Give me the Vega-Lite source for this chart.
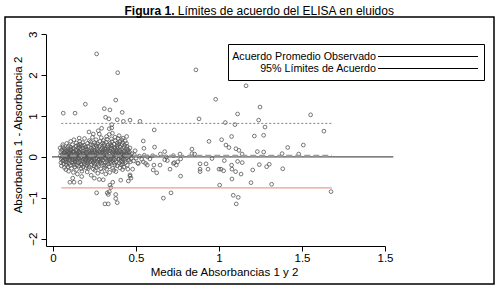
{
  "$schema": "https://vega.github.io/schema/vega-lite/v6.json",
  "width": 489,
  "height": 267,
  "autosize": {"type": "none"},
  "padding": {"left": 5, "top": 17, "right": 5, "bottom": 6},
  "background": "white",
  "config": {
    "view": {"stroke": "black", "strokeWidth": 1.5},
    "font": "Liberation Sans",
    "legend": {
      "title": null,
      "orient": "none",
      "legendX": 223,
      "legendY": 27,
      "symbolType": "M-7.692,-0.075H7.692V0.075H-7.692Z",
      "symbolSize": 169,
      "symbolStrokeWidth": 0,
      "rowPadding": -1,
      "padding": 6,
      "strokeColor": "black",
      "fillColor": "white",
      "labelFont": "Liberation Sans",
      "labelFontSize": 10.7,
      "labelColor": "black",
      "labelOffset": -58.5,
      "symbolOffset": 187.5,
      "labelLimit": 300
    }
  },
  "resolve": {"axis": {"x": "independent", "y": "independent"}},
  "datasets": {
    "puntos": [
      {"media":0.047,"dif":0.12},{"media":0.050,"dif":-0.05},{"media":0.045,"dif":0.03},{"media":0.048,"dif":-0.14},{"media":0.043,"dif":0.22},
      {"media":0.055,"dif":0.07},{"media":0.058,"dif":-0.1},{"media":0.053,"dif":0.17},{"media":0.056,"dif":-0.02},{"media":0.051,"dif":-0.22},{"media":0.059,"dif":0.3},
      {"media":0.063,"dif":0.0},{"media":0.066,"dif":0.1},{"media":0.061,"dif":-0.08},{"media":0.064,"dif":-0.17},{"media":0.059,"dif":0.25},{"media":0.067,"dif":0.05},
      {"media":0.071,"dif":-0.04},{"media":0.074,"dif":0.14},{"media":0.069,"dif":-0.26},{"media":0.072,"dif":0.03},{"media":0.067,"dif":0.2},{"media":0.075,"dif":-0.12},{"media":0.070,"dif":0.09},
      {"media":0.079,"dif":0.06},{"media":0.082,"dif":-0.07},{"media":0.077,"dif":0.18},{"media":0.080,"dif":-0.19},{"media":0.075,"dif":0.01},{"media":0.083,"dif":0.33},{"media":0.078,"dif":-0.31},
      {"media":0.087,"dif":0.11},{"media":0.090,"dif":-0.02},{"media":0.085,"dif":-0.13},{"media":0.088,"dif":0.23},{"media":0.083,"dif":0.04},{"media":0.091,"dif":-0.24},{"media":0.086,"dif":0.15},
      {"media":0.095,"dif":-0.06},{"media":0.098,"dif":0.08},{"media":0.093,"dif":0.27},{"media":0.096,"dif":-0.16},{"media":0.091,"dif":0.0},{"media":0.099,"dif":0.13},{"media":0.094,"dif":-0.35},
      {"media":0.103,"dif":0.02},{"media":0.106,"dif":0.19},{"media":0.101,"dif":-0.09},{"media":0.104,"dif":-0.21},{"media":0.099,"dif":0.1},{"media":0.107,"dif":0.38},{"media":0.102,"dif":-0.03},
      {"media":0.111,"dif":0.05},{"media":0.114,"dif":-0.12},{"media":0.109,"dif":0.16},{"media":0.112,"dif":-0.28},{"media":0.107,"dif":0.24},{"media":0.115,"dif":-0.01},{"media":0.110,"dif":0.09},
      {"media":0.119,"dif":-0.07},{"media":0.122,"dif":0.12},{"media":0.117,"dif":0.3},{"media":0.120,"dif":-0.15},{"media":0.115,"dif":0.03},{"media":0.123,"dif":-0.38},{"media":0.118,"dif":0.2},
      {"media":0.127,"dif":0.08},{"media":0.130,"dif":-0.04},{"media":0.125,"dif":0.21},{"media":0.128,"dif":-0.19},{"media":0.123,"dif":0.14},{"media":0.131,"dif":-0.1},{"media":0.126,"dif":0.42},
      {"media":0.135,"dif":0.0},{"media":0.138,"dif":0.17},{"media":0.133,"dif":-0.13},{"media":0.136,"dif":0.06},{"media":0.131,"dif":-0.25},{"media":0.139,"dif":0.26},{"media":0.134,"dif":-0.06},
      {"media":0.143,"dif":0.1},{"media":0.146,"dif":-0.08},{"media":0.141,"dif":0.34},{"media":0.144,"dif":-0.2},{"media":0.139,"dif":0.04},{"media":0.147,"dif":0.15},{"media":0.142,"dif":-0.31},
      {"media":0.151,"dif":-0.03},{"media":0.154,"dif":0.22},{"media":0.149,"dif":0.07},{"media":0.152,"dif":-0.14},{"media":0.147,"dif":-0.42},{"media":0.155,"dif":0.12},{"media":0.150,"dif":0.29},
      {"media":0.159,"dif":0.13},{"media":0.162,"dif":-0.11},{"media":0.157,"dif":0.02},{"media":0.160,"dif":0.25},{"media":0.155,"dif":-0.22},{"media":0.163,"dif":0.08},{"media":0.158,"dif":-0.05},{"media":0.161,"dif":0.38},
      {"media":0.167,"dif":0.05},{"media":0.170,"dif":-0.17},{"media":0.165,"dif":0.19},{"media":0.168,"dif":-0.02},{"media":0.163,"dif":0.31},{"media":0.171,"dif":-0.29},{"media":0.166,"dif":0.11},
      {"media":0.175,"dif":-0.09},{"media":0.178,"dif":0.14},{"media":0.173,"dif":0.0},{"media":0.176,"dif":0.27},{"media":0.171,"dif":-0.2},{"media":0.179,"dif":0.07},{"media":0.174,"dif":-0.35},
      {"media":0.183,"dif":0.09},{"media":0.186,"dif":-0.05},{"media":0.181,"dif":0.22},{"media":0.184,"dif":-0.13},{"media":0.179,"dif":0.35},{"media":0.187,"dif":0.02},{"media":0.182,"dif":-0.24},
      {"media":0.191,"dif":0.16},{"media":0.194,"dif":-0.01},{"media":0.189,"dif":-0.18},{"media":0.192,"dif":0.06},{"media":0.187,"dif":0.29},{"media":0.195,"dif":-0.08},{"media":0.190,"dif":0.45},
      {"media":0.199,"dif":-0.04},{"media":0.202,"dif":0.11},{"media":0.197,"dif":0.24},{"media":0.200,"dif":-0.27},{"media":0.195,"dif":0.03},{"media":0.203,"dif":-0.14},{"media":0.198,"dif":0.19},
      {"media":0.207,"dif":0.07},{"media":0.210,"dif":-0.1},{"media":0.205,"dif":0.18},{"media":0.208,"dif":0.33},{"media":0.203,"dif":-0.21},{"media":0.211,"dif":0.01},{"media":0.206,"dif":-0.37},
      {"media":0.215,"dif":0.13},{"media":0.218,"dif":-0.06},{"media":0.213,"dif":0.26},{"media":0.216,"dif":0.04},{"media":0.211,"dif":-0.16},{"media":0.219,"dif":0.4},{"media":0.214,"dif":-0.28},
      {"media":0.223,"dif":0.0},{"media":0.226,"dif":0.15},{"media":0.221,"dif":-0.12},{"media":0.224,"dif":0.09},{"media":0.219,"dif":-0.24},{"media":0.227,"dif":0.3},{"media":0.222,"dif":-0.03},
      {"media":0.231,"dif":0.21},{"media":0.234,"dif":-0.08},{"media":0.229,"dif":0.05},{"media":0.232,"dif":-0.19},{"media":0.227,"dif":0.37},{"media":0.235,"dif":0.12},{"media":0.230,"dif":-0.45},
      {"media":0.239,"dif":0.08},{"media":0.242,"dif":-0.14},{"media":0.237,"dif":0.17},{"media":0.240,"dif":0.28},{"media":0.235,"dif":-0.02},{"media":0.243,"dif":-0.3},{"media":0.238,"dif":0.48},
      {"media":0.247,"dif":-0.05},{"media":0.250,"dif":0.12},{"media":0.245,"dif":0.23},{"media":0.248,"dif":-0.22},{"media":0.243,"dif":0.02},{"media":0.251,"dif":0.35},{"media":0.246,"dif":-0.11},
      {"media":0.255,"dif":0.16},{"media":0.258,"dif":0.04},{"media":0.253,"dif":-0.09},{"media":0.256,"dif":0.3},{"media":0.251,"dif":-0.17},{"media":0.259,"dif":0.09},{"media":0.254,"dif":-0.33},
      {"media":0.263,"dif":-0.02},{"media":0.266,"dif":0.2},{"media":0.261,"dif":-0.26},{"media":0.264,"dif":0.1},{"media":0.259,"dif":0.42},{"media":0.267,"dif":-0.12},{"media":0.262,"dif":0.26},
      {"media":0.271,"dif":0.07},{"media":0.274,"dif":-0.07},{"media":0.269,"dif":0.32},{"media":0.272,"dif":-0.18},{"media":0.267,"dif":0.15},{"media":0.275,"dif":0.0},{"media":0.270,"dif":-0.4},
      {"media":0.279,"dif":0.13},{"media":0.282,"dif":-0.13},{"media":0.277,"dif":0.25},{"media":0.280,"dif":0.03},{"media":0.275,"dif":-0.23},{"media":0.283,"dif":0.38},{"media":0.278,"dif":-0.05},
      {"media":0.287,"dif":-0.1},{"media":0.290,"dif":0.18},{"media":0.285,"dif":0.06},{"media":0.288,"dif":-0.29},{"media":0.283,"dif":0.28},{"media":0.291,"dif":0.47},{"media":0.286,"dif":0.11},
      {"media":0.295,"dif":0.02},{"media":0.298,"dif":0.22},{"media":0.293,"dif":-0.15},{"media":0.296,"dif":0.12},{"media":0.291,"dif":-0.04},{"media":0.299,"dif":0.34},{"media":0.294,"dif":-0.36},
      {"media":0.303,"dif":0.09},{"media":0.306,"dif":-0.2},{"media":0.301,"dif":0.16},{"media":0.304,"dif":0.4},{"media":0.299,"dif":-0.08},{"media":0.307,"dif":0.27},{"media":0.302,"dif":0.0},
      {"media":0.311,"dif":-0.03},{"media":0.314,"dif":0.13},{"media":0.309,"dif":0.31},{"media":0.312,"dif":-0.26},{"media":0.307,"dif":0.05},{"media":0.315,"dif":-0.14},{"media":0.310,"dif":0.21},
      {"media":0.319,"dif":0.18},{"media":0.322,"dif":-0.06},{"media":0.317,"dif":0.08},{"media":0.320,"dif":0.36},{"media":0.315,"dif":-0.21},{"media":0.323,"dif":0.5},{"media":0.318,"dif":-0.42},
      {"media":0.327,"dif":0.04},{"media":0.330,"dif":0.24},{"media":0.325,"dif":-0.11},{"media":0.328,"dif":0.14},{"media":0.323,"dif":-0.3},{"media":0.331,"dif":0.01},{"media":0.326,"dif":0.43},
      {"media":0.335,"dif":-0.07},{"media":0.338,"dif":0.1},{"media":0.333,"dif":0.29},{"media":0.336,"dif":-0.17},{"media":0.331,"dif":0.19},{"media":0.339,"dif":0.55},{"media":0.334,"dif":-0.02},
      {"media":0.343,"dif":0.15},{"media":0.346,"dif":-0.12},{"media":0.341,"dif":0.06},{"media":0.344,"dif":0.33},{"media":0.339,"dif":-0.24},{"media":0.347,"dif":0.22},{"media":0.342,"dif":-0.38},
      {"media":0.351,"dif":0.01},{"media":0.354,"dif":0.2},{"media":0.349,"dif":-0.05},{"media":0.352,"dif":0.44},{"media":0.347,"dif":-0.16},{"media":0.355,"dif":0.11},{"media":0.350,"dif":0.28},
      {"media":0.359,"dif":-0.09},{"media":0.362,"dif":0.07},{"media":0.357,"dif":0.26},{"media":0.360,"dif":-0.28},{"media":0.355,"dif":0.37},{"media":0.363,"dif":0.16},{"media":0.358,"dif":0.58},
      {"media":0.367,"dif":0.12},{"media":0.370,"dif":-0.15},{"media":0.365,"dif":0.03},{"media":0.368,"dif":0.31},{"media":0.363,"dif":-0.04},{"media":0.371,"dif":0.22},{"media":0.366,"dif":-0.33},
      {"media":0.375,"dif":0.05},{"media":0.378,"dif":0.18},{"media":0.373,"dif":-0.2},{"media":0.376,"dif":0.4},{"media":0.371,"dif":-0.07},{"media":0.379,"dif":0.1},{"media":0.374,"dif":0.48},
      {"media":0.383,"dif":-0.01},{"media":0.386,"dif":0.25},{"media":0.381,"dif":-0.12},{"media":0.384,"dif":0.14},{"media":0.379,"dif":-0.36},{"media":0.387,"dif":0.34},{"media":0.382,"dif":0.07},
      {"media":0.391,"dif":0.1},{"media":0.394,"dif":-0.06},{"media":0.389,"dif":0.21},{"media":0.392,"dif":0.45},{"media":0.387,"dif":-0.22},{"media":0.395,"dif":0.03},{"media":0.390,"dif":0.29},
      {"media":0.399,"dif":-0.04},{"media":0.402,"dif":0.16},{"media":0.397,"dif":0.32},{"media":0.400,"dif":-0.15},{"media":0.395,"dif":0.08},{"media":0.403,"dif":-0.27},{"media":0.398,"dif":0.52},
      {"media":0.407,"dif":0.13},{"media":0.410,"dif":0.0},{"media":0.405,"dif":0.24},{"media":0.408,"dif":-0.1},{"media":0.403,"dif":0.38},{"media":0.411,"dif":-0.19},{"media":0.406,"dif":0.06},
      {"media":0.415,"dif":0.07},{"media":0.418,"dif":-0.13},{"media":0.413,"dif":0.19},{"media":0.416,"dif":0.3},{"media":0.411,"dif":-0.03},{"media":0.419,"dif":-0.31},{"media":0.414,"dif":0.11},
      {"media":0.423,"dif":-0.06},{"media":0.426,"dif":0.12},{"media":0.421,"dif":0.35},{"media":0.424,"dif":0.02},{"media":0.419,"dif":-0.18},{"media":0.427,"dif":0.23},{"media":0.422,"dif":0.46},
      {"media":0.431,"dif":0.15},{"media":0.434,"dif":-0.09},{"media":0.429,"dif":0.05},{"media":0.432,"dif":0.28},{"media":0.427,"dif":-0.25},{"media":0.435,"dif":0.39},
      {"media":0.439,"dif":0.03},{"media":0.442,"dif":0.2},{"media":0.437,"dif":-0.14},{"media":0.440,"dif":0.1},{"media":0.435,"dif":-0.04},{"media":0.443,"dif":0.33},
      {"media":0.447,"dif":-0.02},{"media":0.450,"dif":0.14},{"media":0.445,"dif":0.26},{"media":0.448,"dif":-0.2},{"media":0.443,"dif":0.06},
      {"media":0.455,"dif":0.09},{"media":0.458,"dif":-0.08},{"media":0.453,"dif":0.18},{"media":0.456,"dif":0.01},{"media":0.451,"dif":-0.3},
      {"media":0.463,"dif":0.04},{"media":0.466,"dif":-0.12},{"media":0.461,"dif":0.12},{"media":0.464,"dif":0.22},
      {"media":0.471,"dif":-0.04},{"media":0.474,"dif":0.08},
      {"media":0.49,"dif":0.05},{"media":0.5,"dif":-0.03},{"media":0.52,"dif":0.02},{"media":0.535,"dif":-0.06},{"media":0.55,"dif":0.04},{"media":0.57,"dif":0.0},{"media":0.6,"dif":0.03},{"media":0.485,"dif":-0.1},{"media":0.495,"dif":0.15},{"media":0.51,"dif":-0.15},
      {"media":0.263,"dif":2.52},{"media":0.39,"dif":2.06},{"media":0.861,"dif":2.13},{"media":1.163,"dif":1.74},{"media":0.378,"dif":1.39},{"media":0.98,"dif":1.41},
      {"media":0.062,"dif":1.07},{"media":0.133,"dif":1.07},{"media":0.195,"dif":1.29},{"media":0.309,"dif":1.18},{"media":0.343,"dif":1.15},{"media":0.417,"dif":1.09},{"media":1.112,"dif":1.05},
      {"media":0.317,"dif":0.97},{"media":0.337,"dif":0.93},{"media":0.88,"dif":0.93},{"media":0.387,"dif":0.91},{"media":0.424,"dif":0.87},{"media":0.464,"dif":0.9},{"media":0.524,"dif":0.87},
      {"media":0.61,"dif":0.66},{"media":1.038,"dif":0.84},{"media":1.096,"dif":0.79},{"media":0.544,"dif":0.39},{"media":0.94,"dif":0.38},{"media":1.076,"dif":0.5},{"media":1.016,"dif":0.42},
      {"media":1.247,"dif":1.22},{"media":1.552,"dif":1.03},{"media":1.239,"dif":0.9},{"media":1.277,"dif":0.73},{"media":1.632,"dif":0.63},{"media":1.213,"dif":0.51},{"media":1.269,"dif":0.53},{"media":1.508,"dif":0.29},
      {"media":0.354,"dif":0.79},{"media":0.354,"dif":0.71},{"media":0.339,"dif":0.69},{"media":0.217,"dif":0.61},{"media":0.273,"dif":0.64},{"media":0.293,"dif":0.7},{"media":0.158,"dif":0.46},{"media":0.243,"dif":0.56},{"media":0.279,"dif":0.56},{"media":0.444,"dif":0.5},{"media":0.414,"dif":0.42},
      {"media":1.042,"dif":0.29},{"media":1.06,"dif":0.23},{"media":1.102,"dif":0.2},{"media":1.12,"dif":0.16},{"media":1.139,"dif":0.07},{"media":1.231,"dif":0.13},{"media":1.269,"dif":0.12},{"media":1.414,"dif":0.23},{"media":1.38,"dif":0.08},{"media":1.48,"dif":0.07},
      {"media":0.612,"dif":0.24},{"media":0.673,"dif":0.13},{"media":0.647,"dif":0.07},{"media":0.837,"dif":0.19},{"media":0.837,"dif":0.08},{"media":0.853,"dif":0.07},{"media":0.765,"dif":0.07},{"media":0.683,"dif":0.0},
      {"media":0.689,"dif":-0.09},{"media":0.731,"dif":-0.14},{"media":0.743,"dif":-0.2},{"media":0.673,"dif":-0.07},{"media":0.584,"dif":-0.05},{"media":0.769,"dif":-0.05},{"media":0.958,"dif":-0.04},{"media":1.032,"dif":-0.09},
      {"media":1.112,"dif":-0.11},{"media":1.14,"dif":-0.14},{"media":0.886,"dif":-0.17},{"media":0.922,"dif":-0.17},{"media":1.076,"dif":-0.2},{"media":1.243,"dif":-0.19},{"media":1.303,"dif":-0.18},{"media":1.287,"dif":-0.24},
      {"media":0.604,"dif":-0.32},{"media":0.625,"dif":-0.39},{"media":0.705,"dif":-0.3},{"media":0.886,"dif":-0.3},{"media":0.886,"dif":-0.36},{"media":0.934,"dif":-0.3},{"media":1.0,"dif":-0.3},{"media":1.012,"dif":-0.3},
      {"media":1.028,"dif":-0.34},{"media":1.078,"dif":-0.3},{"media":1.1,"dif":-0.36},{"media":1.133,"dif":-0.42},{"media":1.203,"dif":-0.32},{"media":1.384,"dif":-0.29},{"media":0.769,"dif":-0.47},{"media":1.078,"dif":-0.54},
      {"media":1.193,"dif":-0.63},{"media":1.317,"dif":-0.67},{"media":1.004,"dif":-0.69},{"media":1.675,"dif":-0.85},{"media":0.665,"dif":-1.01},{"media":0.711,"dif":-0.88},{"media":1.086,"dif":-0.94},{"media":1.116,"dif":-0.99},{"media":1.104,"dif":-1.15},
      {"media":0.548,"dif":0.21},{"media":0.725,"dif":0.03},{"media":0.751,"dif":-0.12},{"media":0.544,"dif":-0.12},{"media":0.568,"dif":-0.2},{"media":0.608,"dif":-0.2},{"media":0.645,"dif":-0.2},{"media":0.558,"dif":-0.16},{"media":0.514,"dif":-0.16},{"media":0.725,"dif":-0.16},{"media":0.48,"dif":-0.3},
      {"media":0.102,"dif":-0.62},{"media":0.127,"dif":-0.62},{"media":0.173,"dif":-0.48},{"media":0.163,"dif":-0.62},{"media":0.119,"dif":-0.52},{"media":0.263,"dif":-0.88},{"media":0.327,"dif":-0.88},{"media":0.333,"dif":-0.92},
      {"media":0.378,"dif":-0.92},{"media":0.378,"dif":-1.02},{"media":0.313,"dif":-1.15},{"media":0.333,"dif":-1.15},{"media":0.387,"dif":-1.12},{"media":0.343,"dif":-0.69},{"media":0.349,"dif":-0.75},{"media":0.36,"dif":-0.62},
      {"media":0.339,"dif":-0.85},{"media":0.464,"dif":-0.47},{"media":0.47,"dif":-0.52},{"media":0.454,"dif":-0.59},{"media":0.408,"dif":-0.57},{"media":0.279,"dif":-0.55},{"media":0.303,"dif":-0.56},{"media":0.249,"dif":-0.52},{"media":0.464,"dif":-0.44}
    ],
    "lineas": [
      {"linea": "cero", "desde": -0.006, "hasta": 2.05, "valor": 0, "grupo": "ninguno"},
      {"linea": "media", "desde": 0.05, "hasta": 1.68, "valor": 0.03, "grupo": "Acuerdo Promedio Observado"},
      {"linea": "superior", "desde": 0.05, "hasta": 1.68, "valor": 0.82, "grupo": "95% Límites de Acuerdo"},
      {"linea": "inferior", "desde": 0.05, "hasta": 1.68, "valor": -0.76, "grupo": "95% Límites de Acuerdo"}
    ]
  },
  "layer": [
    {
      "data": {"name": "puntos"},
      "mark": {"type": "point", "shape": "circle", "filled": false, "stroke": "#555555", "strokeWidth": 0.8, "size": 14, "opacity": 1},
      "encoding": {
        "x": {
          "field": "media", "type": "quantitative",
          "scale": {"domain": [-0.042, 2.0], "range": [41, 380], "nice": false, "zero": false},
          "axis": {
            "title": "Media de Absorbancias 1 y 2",
            "orient": "bottom",
            "values": [0, 0.5, 1, 1.5, 2],
            "format": "~g",
            "labelExpr": "datum.value == 2 ? '1.5' : datum.label",
            "offset": -38,
            "grid": false,
            "tickSize": 5,
            "tickColor": "black",
            "domainColor": "black",
            "labelFont": "Liberation Sans",
            "labelFontSize": 11.5,
            "labelColor": "black",
            "labelPadding": 1,
            "labelFlush": false,
            "labelOverlap": false,
            "titleFont": "Liberation Sans",
            "titleFontSize": 11.5,
            "titleFontWeight": "normal",
            "titleColor": "black",
            "titlePadding": 3,
            "titleX": 219
          }
        },
        "y": {
          "field": "dif", "type": "quantitative",
          "scale": {"domain": [-2.18, 3], "range": [229, 17.3], "nice": false, "zero": false},
          "axis": {
            "title": "Absorbancia 1 - Absorbancia 2",
            "orient": "left",
            "values": [-2, -1, 0, 1, 2, 3],
            "offset": -41,
            "grid": false,
            "tickSize": 5,
            "tickColor": "black",
            "domainColor": "black",
            "labelAngle": 270,
            "labelAlign": "center",
            "labelBaseline": "bottom",
            "labelFont": "Liberation Sans",
            "labelFontSize": 11.5,
            "labelColor": "black",
            "labelPadding": 3,
            "labelFlush": false,
            "labelOverlap": false,
            "titleFont": "Liberation Sans",
            "titleFontSize": 11.5,
            "titleFontWeight": "normal",
            "titleColor": "black",
            "titlePadding": 4,
            "titleY": 117.5
          }
        }
      }
    },
    {
      "data": {"name": "lineas"},
      "transform": [{"filter": "datum.linea == 'cero'"}],
      "mark": {"type": "rule", "stroke": "#555555", "strokeWidth": 1.2},
      "encoding": {
        "x": {
          "field": "desde", "type": "quantitative",
          "scale": {"domain": [-0.042, 2.0], "range": [41, 380], "nice": false, "zero": false},
          "axis": {
            "orient": "top", "domain": false, "ticks": false, "labels": false, "grid": false,
            "title": "Figura 1.",
            "titleFont": "Liberation Sans", "titleFontSize": 12, "titleFontWeight": "bold", "titleColor": "black",
            "titleX": 119, "titleY": -2.5, "titleAlign": "left", "titleBaseline": "alphabetic", "titleAngle": 0
          }
        },
        "x2": {"field": "hasta"},
        "y": {"field": "valor", "type": "quantitative", "scale": {"domain": [-2.18, 3], "range": [229, 17.3], "nice": false, "zero": false}, "axis": null}
      }
    },
    {
      "data": {"name": "lineas"},
      "transform": [{"filter": "datum.linea == 'inferior'"}],
      "mark": {"type": "rule", "stroke": "#e8a090", "strokeWidth": 1.3},
      "encoding": {
        "x": {
          "field": "desde", "type": "quantitative",
          "scale": {"domain": [-0.042, 2.0], "range": [41, 380], "nice": false, "zero": false},
          "axis": {
            "orient": "top", "domain": false, "ticks": false, "labels": false, "grid": false,
            "title": "Límites de acuerdo del ELISA en eluidos",
            "titleFont": "Liberation Sans", "titleFontSize": 12, "titleFontWeight": "normal", "titleColor": "black",
            "titleX": 172.3, "titleY": -2.5, "titleAlign": "left", "titleBaseline": "alphabetic", "titleAngle": 0
          }
        },
        "x2": {"field": "hasta"},
        "y": {"field": "valor", "type": "quantitative", "scale": {"domain": [-2.18, 3], "range": [229, 17.3], "nice": false, "zero": false}, "axis": null}
      }
    },
    {
      "data": {"name": "lineas"},
      "transform": [{"filter": "datum.linea == 'media'"}],
      "mark": {"type": "rule", "strokeWidth": 2, "strokeDash": [6, 3]},
      "encoding": {
        "x": {"field": "desde", "type": "quantitative", "scale": {"domain": [-0.042, 2.0], "range": [41, 380], "nice": false, "zero": false}, "axis": null},
        "x2": {"field": "hasta"},
        "y": {"field": "valor", "type": "quantitative", "scale": {"domain": [-2.18, 3], "range": [229, 17.3], "nice": false, "zero": false}, "axis": null},
        "color": {
          "field": "grupo", "type": "nominal",
          "scale": {"domain": ["Acuerdo Promedio Observado", "95% Límites de Acuerdo"], "range": ["#9a9a9a", "#b86a6a"]},
          "legend": {
            "encode": {
              "labels": {"update": {"align": {"value": "right"}}},
              "symbols": {
                "update": {
                  "fill": {"value": "black"},
                  "fillOpacity": {"value": 1},
                  "strokeWidth": {"value": 0},
                  "strokeDash": {"value": [1, 0]}
                }
              }
            }
          }
        }
      }
    },
    {
      "data": {"name": "lineas"},
      "transform": [{"filter": "datum.linea == 'superior'"}],
      "mark": {"type": "rule", "strokeWidth": 1, "strokeDash": [2, 2]},
      "encoding": {
        "x": {"field": "desde", "type": "quantitative", "scale": {"domain": [-0.042, 2.0], "range": [41, 380], "nice": false, "zero": false}, "axis": null},
        "x2": {"field": "hasta"},
        "y": {"field": "valor", "type": "quantitative", "scale": {"domain": [-2.18, 3], "range": [229, 17.3], "nice": false, "zero": false}, "axis": null},
        "color": {
          "field": "grupo", "type": "nominal",
          "scale": {"domain": ["Acuerdo Promedio Observado", "95% Límites de Acuerdo"], "range": ["#9a9a9a", "#b86a6a"]},
          "legend": {
            "encode": {
              "labels": {"update": {"align": {"value": "right"}}},
              "symbols": {
                "update": {
                  "fill": {"value": "black"},
                  "fillOpacity": {"value": 1},
                  "strokeWidth": {"value": 0},
                  "strokeDash": {"value": [1, 0]}
                }
              }
            }
          }
        }
      }
    }
  ]
}
